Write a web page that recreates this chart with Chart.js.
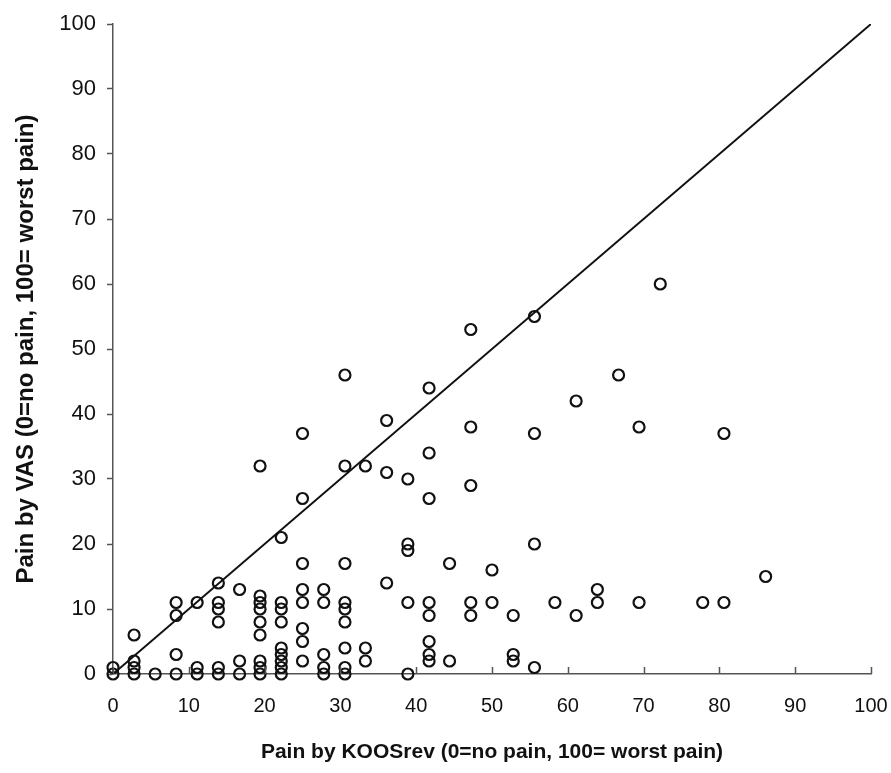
<!DOCTYPE html>
<html>
<head>
<meta charset="utf-8">
<script src="https://cdn.jsdelivr.net/npm/chart.js@4/dist/chart.umd.min.js"></script>
<style>
  html, body { margin: 0; padding: 0; background: #fff; }
  #wrap { width: 891px; height: 773px; position: relative; }
</style>
</head>
<body>
<div id="wrap"><canvas id="chart"></canvas></div>
<script>
// KOOS pain (reversed) vs VAS pain, one entry per patient
const koos = [
  0, 0,
  2.78, 2.78, 2.78, 2.78,
  5.56,
  8.33, 8.33, 8.33, 8.33,
  11.1, 11.1, 11.1,
  13.9, 13.9, 13.9, 13.9, 13.9, 13.9,
  16.7, 16.7, 16.7,
  19.4, 19.4, 19.4, 19.4, 19.4, 19.4, 19.4, 19.4, 19.4,
  22.2, 22.2, 22.2, 22.2, 22.2, 22.2, 22.2, 22.2, 22.2,
  25, 25, 25, 25, 25, 25, 25, 25,
  27.8, 27.8, 27.8, 27.8, 27.8,
  30.6, 30.6, 30.6, 30.6, 30.6, 30.6, 30.6, 30.6, 30.6,
  33.3, 33.3, 33.3,
  36.1, 36.1, 36.1,
  38.9, 38.9, 38.9, 38.9, 38.9,
  41.7, 41.7, 41.7, 41.7, 41.7, 41.7, 41.7, 41.7,
  44.4, 44.4,
  47.2, 47.2, 47.2, 47.2, 47.2,
  50, 50,
  52.8, 52.8, 52.8,
  55.6, 55.6, 55.6, 55.6,
  58.3,
  61.1, 61.1,
  63.9, 63.9,
  66.7,
  69.4, 69.4,
  72.2,
  77.8,
  80.6, 80.6,
  86.1
];
const vas = [
  1, 0,
  6, 2, 1, 0,
  0,
  11, 9, 3, 0,
  11, 1, 0,
  14, 11, 10, 8, 1, 0,
  13, 2, 0,
  32, 12, 11, 10, 8, 6, 2, 1, 0,
  21, 11, 10, 8, 4, 3, 2, 1, 0,
  37, 27, 17, 13, 11, 7, 5, 2,
  13, 11, 3, 1, 0,
  46, 32, 17, 11, 10, 8, 4, 1, 0,
  32, 4, 2,
  39, 31, 14,
  30, 20, 19, 11, 0,
  44, 34, 27, 11, 9, 5, 3, 2,
  17, 2,
  53, 38, 29, 11, 9,
  16, 11,
  9, 3, 2,
  55, 37, 20, 1,
  11,
  42, 9,
  13, 11,
  46,
  38, 11,
  60,
  11,
  37, 11,
  15
];
const lineOfEquality = [0, 100];
const tickValues = [0, 10, 20, 30, 40, 50, 60, 70, 80, 90, 100];

const FONT = "'Liberation Sans', Arial, Helvetica, sans-serif";
const INK = "#111";
const AXIS = "#555";

// x ticks point into the plot area, so draw them ourselves
const innerTicks = {
  id: "innerTicks",
  afterDraw(chart) {
    const xs = chart.scales.x;
    const ctx = chart.ctx;
    ctx.save();
    ctx.strokeStyle = AXIS;
    ctx.lineWidth = 1.5;
    ctx.beginPath();
    tickValues.forEach(v => {
      const px = Math.round(xs.getPixelForValue(v)) + 0.5;
      ctx.moveTo(px, xs.top);
      ctx.lineTo(px, xs.top - 7);
    });
    ctx.stroke();
    ctx.restore();
  }
};

new Chart(document.getElementById("chart").getContext("2d"), {
  type: "scatter",
  data: {
    datasets: [
      {
        label: "patients",
        data: koos.map((k, i) => ({ x: k, y: vas[i] })),
        pointRadius: 5.5,
        pointHoverRadius: 5.5,
        pointBorderWidth: 2.2,
        pointBorderColor: INK,
        pointBackgroundColor: "rgba(255,255,255,0)",
        clip: 10,
        order: 0
      },
      {
        type: "line",
        label: "equality",
        data: lineOfEquality.map(v => ({ x: v, y: v })),
        borderColor: INK,
        borderWidth: 2,
        pointRadius: 0,
        fill: false,
        order: 1
      }
    ]
  },
  options: {
    responsive: true,
    maintainAspectRatio: false,
    animation: false,
    events: [],
    layout: { padding: { top: 24, right: 20, left: 0, bottom: 0 } },
    plugins: { legend: { display: false }, tooltip: { enabled: false } },
    scales: {
      x: {
        type: "linear",
        min: 0,
        max: 100,
        afterBuildTicks(s) { s.ticks = tickValues.map(v => ({ value: v })); },
        afterFit(s) { s.height = 99; s.paddingLeft = 0; s.paddingRight = 0; },
        grid: { display: true, drawOnChartArea: false, drawTicks: false, color: AXIS },
        border: { display: true, color: AXIS, width: 1.5 },
        ticks: { color: INK, padding: 20, maxRotation: 0, font: { family: FONT, size: 20 } },
        title: {
          display: true,
          text: "Pain by KOOSrev (0=no pain, 100= worst pain)",
          color: INK,
          padding: { top: 0, bottom: 8 },
          font: { family: FONT, size: 21, weight: "bold" }
        }
      },
      y: {
        type: "linear",
        min: 0,
        max: 100,
        afterBuildTicks(s) { s.ticks = tickValues.map(v => ({ value: v })); },
        afterFit(s) { s.width = 113; s.paddingTop = 0; s.paddingBottom = 0; },
        grid: { display: true, drawOnChartArea: false, drawTicks: true, tickLength: 6, tickWidth: 1.5, color: AXIS },
        border: { display: true, color: AXIS, width: 1.5 },
        ticks: { color: INK, padding: 11, font: { family: FONT, size: 22 } },
        title: {
          display: true,
          text: "Pain by VAS (0=no pain, 100= worst pain)",
          color: INK,
          padding: { top: 12, bottom: 0 },
          font: { family: FONT, size: 24, weight: "bold" }
        }
      }
    }
  },
  plugins: [innerTicks]
});
</script>
</body>
</html>
